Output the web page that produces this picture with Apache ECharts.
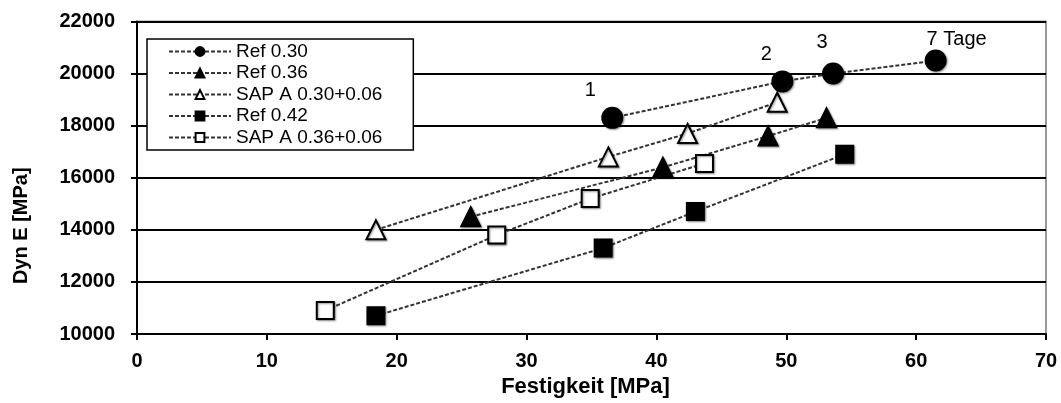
<!DOCTYPE html>
<html><head><meta charset="utf-8">
<script src="https://cdn.jsdelivr.net/npm/echarts@6/dist/echarts.min.js"></script>
<style>html,body{margin:0;padding:0;background:#fff}#c{width:1061px;height:403px}</style>
</head><body><div id="c"></div>
<script>
// ---- data ----
const seriesNames = ['Ref 0.30', 'Ref 0.36', 'SAP A 0.30+0.06', 'Ref 0.42', 'SAP A 0.36+0.06'];
const ageLabels = ['1', '2', '3', '7 Tage'];
const ref030X = [36.6, 49.7, 53.6, 61.5];
const ref030Y = [18300, 19700, 20000, 20500];
const ref036X = [25.7, 40.5, 48.6, 53.1];
const ref036Y = [14500, 16400, 17600, 18300];
const sapA030X = [18.4, 36.3, 42.4, 49.3];
const sapA030Y = [14000, 16800, 17700, 18900];
const ref042X = [18.4, 35.9, 43.0, 54.5];
const ref042Y = [10700, 13300, 14700, 16900];
const sapA036X = [14.5, 27.7, 34.9, 43.7];
const sapA036Y = [10900, 13800, 15200, 16550];
const xTickLabels = [0, 10, 20, 30, 40, 50, 60, 70];
const yTickLabels = [10000, 12000, 14000, 16000, 18000, 20000, 22000];

// ---- styles ----
const labelOffsets = [[-22, -27], [-16, -27], [-11, -31], [21, -21]];
const FONT = '"Liberation Sans", Arial, sans-serif';
const lineStyle = { color: '#333', width: 2, type: [4, 2] };
const shadow = { shadowColor: 'rgba(0,0,0,0.4)', shadowBlur: 2, shadowOffsetX: 1, shadowOffsetY: 1 };

function pairs(xs, ys) { return xs.map((x, i) => [x, ys[i]]); }

const markerDefs = [
  { symbol: 'circle', size: 20, fill: '#000' },
  { symbol: 'triangle', size: 19, fill: '#000' },
  { symbol: 'triangle', size: 19, fill: '#fff' },
  { symbol: 'rect', size: 17, fill: '#000' },
  { symbol: 'rect', size: 17, fill: '#fff' }
];
const dataSets = [
  pairs(ref030X, ref030Y),
  pairs(ref036X, ref036Y),
  pairs(sapA030X, sapA030Y),
  pairs(ref042X, ref042Y),
  pairs(sapA036X, sapA036Y)
];

const series = seriesNames.map((name, si) => {
  const m = markerDefs[si];
  let data = dataSets[si];
  if (si === 0) {
    data = data.map((p, i) => ({
      value: p,
      label: {
        show: true, position: 'inside', offset: labelOffsets[i],
        formatter: ageLabels[i], color: '#000', fontSize: 20, fontFamily: FONT
      }
    }));
  }
  return {
    name, type: 'line', data,
    symbol: m.symbol, symbolSize: m.size, showAllSymbol: true,
    lineStyle: lineStyle,
    itemStyle: Object.assign({ color: m.fill, borderColor: '#000', borderWidth: 2 }, shadow),
    emphasis: { disabled: true },
    animation: false, z: 3
  };
});

const chart = echarts.init(document.getElementById('c'), null, { renderer: 'canvas' });
chart.setOption({
  backgroundColor: '#fff',
  animation: false,
  textStyle: { fontFamily: FONT },
  grid: { left: 137, right: 15, top: 21.5, bottom: 64, show: true, borderColor: '#999', borderWidth: 2, backgroundColor: 'transparent' },
  legend: {
    orient: 'vertical', left: 147, top: 39,
    backgroundColor: '#fff', borderColor: '#000', borderWidth: 1.5,
    padding: [3, 31, 3, 21],
    itemWidth: 62, itemHeight: 11, itemGap: 2.5,
    textStyle: { fontSize: 19, lineHeight: 19, color: '#000', fontFamily: FONT },
    data: seriesNames, z: 10
  },
  xAxis: {
    type: 'value', min: xTickLabels[0], max: xTickLabels[xTickLabels.length - 1],
    interval: xTickLabels[1] - xTickLabels[0],
    name: 'Festigkeit [MPa]', nameLocation: 'middle', nameGap: 42,
    nameTextStyle: { fontSize: 22, fontWeight: 'bold', color: '#000', fontFamily: FONT, padding: [0, 12, 0, 0] },
    axisLine: { show: true, onZero: false, lineStyle: { color: '#000', width: 2 } },
    axisTick: { show: true, length: 6, lineStyle: { color: '#000', width: 2 } },
    axisLabel: { fontSize: 20, fontWeight: 'bold', color: '#000', margin: 17, fontFamily: FONT, formatter: v => String(v) },
    splitLine: { show: false }
  },
  yAxis: {
    type: 'value', min: yTickLabels[0], max: yTickLabels[yTickLabels.length - 1],
    interval: yTickLabels[1] - yTickLabels[0],
    name: 'Dyn E [MPa]', nameLocation: 'middle', nameGap: 106,
    nameTextStyle: { fontSize: 20, fontWeight: 'bold', color: '#000', fontFamily: FONT, padding: [0, 96, 0, 0] },
    axisLine: { show: true, lineStyle: { color: '#000', width: 2 } },
    axisTick: { show: true, length: 6, lineStyle: { color: '#000', width: 2 } },
    axisLabel: { fontSize: 20, fontWeight: 'bold', color: '#000', margin: 22, fontFamily: FONT, formatter: v => String(v) },
    splitLine: { show: true, lineStyle: { color: '#000', width: 2 } }
  },
  series
});
</script></body></html>
